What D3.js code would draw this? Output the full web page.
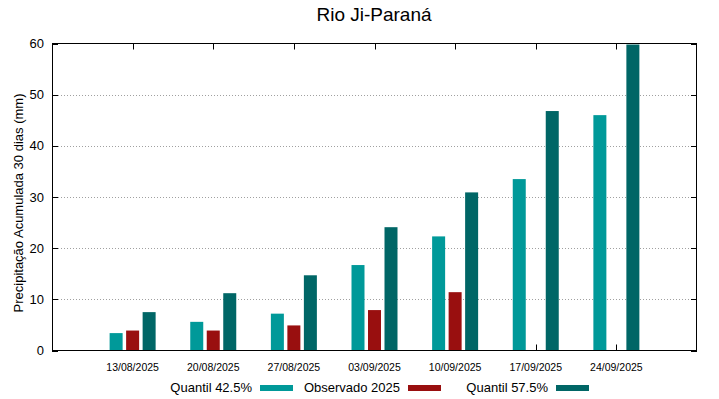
<!DOCTYPE html>
<html>
<head>
<meta charset="utf-8">
<script src="https://cdn.jsdelivr.net/npm/d3@7"></script>
<style>
  body { margin: 0; background: #fff; }
  svg { display: block; font-family: "Liberation Sans", Arial, sans-serif; }
</style>
</head>
<body>
<svg id="chart" width="719" height="399"></svg>
<script>
// ── Data ──
const dates = ['13/08/2025', '20/08/2025', '27/08/2025', '03/09/2025', '10/09/2025', '17/09/2025', '24/09/2025'];
const q425 = [3.4, 5.6, 7.2, 16.7, 22.3, 33.5, 46.0];
const obs2025 = [3.9, 3.9, 4.9, 7.9, 11.4, null, null];
const q575 = [7.5, 11.2, 14.7, 24.1, 30.9, 46.8, 59.8];
const yTicks = [0, 10, 20, 30, 40, 50, 60];

const series = [
  { name: 'Quantil 42.5%', values: q425, color: '#009999', off: -16.5 },
  { name: 'Observado 2025', values: obs2025, color: '#990f0f', off: 0 },
  { name: 'Quantil 57.5%', values: q575, color: '#006666', off: 16.5 }
];

const svg = d3.select('#chart');
const L = 52, R = 697, T = 43.5, B = 350.5;
const barW = 13;

const x = d3.scaleLinear().domain([-1, 7]).range([L, R]);
const y = d3.scaleLinear().domain([0, 60]).range([B, T]);

// ── Grid ──
svg.append('g').selectAll('line').data(yTicks.filter(v => v > 0 && v < 60)).enter().append('line')
  .attr('x1', L).attr('x2', R).attr('y1', d => Math.round(y(d)) + 0.5).attr('y2', d => Math.round(y(d)) + 0.5)
  .attr('stroke', '#a0a0a0').attr('stroke-width', 1).attr('stroke-dasharray', '1,2');

// ── Ticks (inward, mirrored) ──
const tk = svg.append('g').attr('stroke', '#000').attr('stroke-width', 1);
yTicks.forEach(v => {
  const yy = Math.round(y(v)) + 0.5;
  tk.append('line').attr('x1', L).attr('x2', L + 6).attr('y1', yy).attr('y2', yy);
  tk.append('line').attr('x1', R - 6).attr('x2', R).attr('y1', yy).attr('y2', yy);
});
dates.forEach((d, i) => {
  const xx = Math.round(x(i)) + 0.5;
  tk.append('line').attr('x1', xx).attr('x2', xx).attr('y1', T).attr('y2', T + 6);
  tk.append('line').attr('x1', xx).attr('x2', xx).attr('y1', B - 6).attr('y2', B);
});

// ── Bars ──
series.forEach(s => {
  svg.append('g').selectAll('rect').data(s.values.map((v, i) => ({ v, i })).filter(d => d.v != null))
    .enter().append('rect')
    .attr('x', d => x(d.i) + s.off - barW / 2)
    .attr('y', d => y(d.v))
    .attr('width', barW)
    .attr('height', d => y(0) - y(d.v))
    .attr('fill', s.color);
});

// ── Frame ──
svg.append('rect').attr('x', L + 0.5).attr('y', T).attr('width', R - L - 1).attr('height', B - T)
  .attr('fill', 'none').attr('stroke', '#000').attr('stroke-width', 1);

// ── Axis labels ──
svg.append('g').selectAll('text').data(yTicks).enter().append('text')
  .attr('x', 44).attr('y', d => y(d) + 4.5)
  .attr('text-anchor', 'end').attr('font-size', '13px').attr('fill', '#000')
  .text(d => d);

svg.append('g').selectAll('text').data(dates).enter().append('text')
  .attr('x', (d, i) => x(i)).attr('y', 371)
  .attr('text-anchor', 'middle').attr('font-size', '10.5px').attr('fill', '#000')
  .text(d => d);

svg.append('text')
  .attr('transform', 'translate(23,203) rotate(-90)')
  .attr('text-anchor', 'middle').attr('font-size', '13px').attr('fill', '#000')
  .text('Precipitação Acumulada 30 dias (mm)');

svg.append('text')
  .attr('x', 374).attr('y', 21)
  .attr('text-anchor', 'middle').attr('font-size', '19px').attr('fill', '#000')
  .text('Rio Ji-Paraná');

// ── Legend ──
const legX = [260, 408, 556];
series.forEach((s, i) => {
  svg.append('text').attr('x', legX[i] - 8).attr('y', 392)
    .attr('text-anchor', 'end').attr('font-size', '13px').attr('fill', '#000')
    .text(s.name);
  svg.append('rect').attr('x', legX[i]).attr('y', 385).attr('width', 33).attr('height', 6)
    .attr('fill', s.color);
});
</script>
</body>
</html>
